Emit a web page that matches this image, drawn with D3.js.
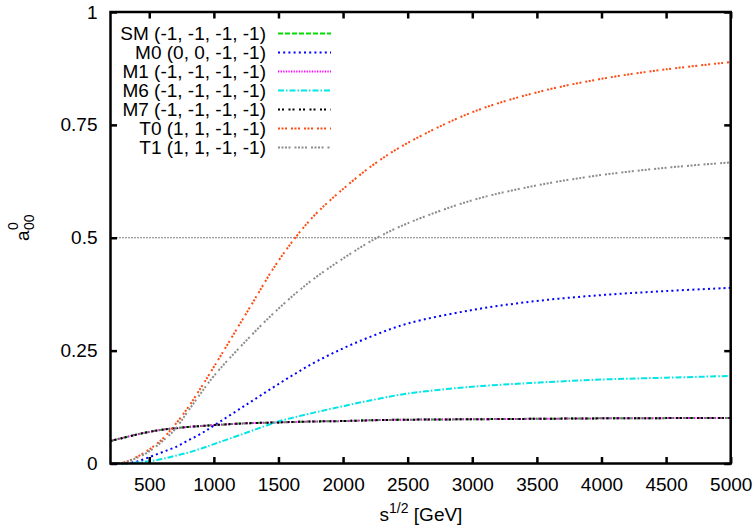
<!DOCTYPE html>
<html><head><meta charset="utf-8">
<script src="https://cdn.jsdelivr.net/npm/d3@7"></script>
<style>
html,body{margin:0;padding:0;background:#fff;}
svg{display:block;font-family:"Liberation Sans",Arial,Helvetica,sans-serif;}
</style></head>
<body>
<svg id="chart" width="756" height="531"></svg>
<script>
const energies = [200,300,400,500,600,700,800,900,1000,1250,1500,1750,2000,2250,2500,3000,3500,4000,4500,5000];
const smValues = [0.050,0.057,0.064,0.070,0.075,0.078,0.081,0.083,0.085,0.089,0.091,0.093,0.094,0.096,0.097,0.098,0.099,0.100,0.1005,0.101];
const m0Values = [0,0,0.004,0.014,0.025,0.036,0.051,0.066,0.084,0.130,0.176,0.219,0.255,0.285,0.310,0.340,0.360,0.373,0.382,0.389];
const m1Values = smValues.slice();
const m6Values = [0,0,0.002,0.005,0.010,0.017,0.024,0.033,0.043,0.068,0.093,0.111,0.127,0.142,0.155,0.170,0.179,0.186,0.190,0.194];
const m7Values = smValues.slice();
const t0Values = [0,0.002,0.014,0.031,0.054,0.086,0.124,0.168,0.214,0.332,0.449,0.541,0.608,0.665,0.710,0.778,0.822,0.852,0.873,0.889];
const t1Values = [0,0.002,0.012,0.027,0.049,0.076,0.116,0.156,0.194,0.272,0.343,0.404,0.454,0.498,0.532,0.583,0.616,0.639,0.655,0.667];
const seriesNames = ["SM (-1, -1, -1, -1)","M0 (0, 0, -1, -1)","M1 (-1, -1, -1, -1)","M6 (-1, -1, -1, -1)","M7 (-1, -1, -1, -1)","T0 (1, 1, -1, -1)","T1 (1, 1, -1, -1)"];
const xTicks = [500,1000,1500,2000,2500,3000,3500,4000,4500,5000];
const yTicks = [0,0.25,0.5,0.75,1];
const yTickLabels = ["0","0.25","0.5","0.75","1"];

const seriesValues = [smValues,m0Values,m1Values,m6Values,m7Values,t0Values,t1Values];
const colors = ["#00dd00","#0000ff","#ff00ff","#00e5e5","#000000","#ff4a10","#8c8c8c"];
const dashes = ["5,2","2,3.2","1.3,1.3","6,2,1.5,2","2,2,2,4.5","2,1.5,2,1.5,2,4","2,1.5,2,1.5,2,1.5,2,4"];

const svg = d3.select("#chart");
const L=110.5, R=730.7, T=12, B=463.5;
const x = d3.scaleLinear().domain([200,5000]).range([L,R]);
const y = d3.scaleLinear().domain([0,1]).range([B,T]);
const fs = 19;

svg.append("line").attr("x1",L).attr("x2",R).attr("y1",y(0.5)).attr("y2",y(0.5))
  .attr("stroke","#000").attr("stroke-width",1).attr("stroke-dasharray","1,2");

const line = d3.line().x((d,i)=>x(energies[i])).y(d=>y(d)).curve(d3.curveCatmullRom.alpha(0.5));
const plot = svg.append("g");
seriesValues.forEach((vals,k)=>{
  plot.append("path").datum(vals).attr("d",line)
    .attr("fill","none").attr("stroke",colors[k]).attr("stroke-width",2)
    .attr("stroke-dasharray",dashes[k]);
});

const tl = 6.5;
const ax = svg.append("g");
ax.append("g").attr("transform",`translate(0,${B})`)
  .call(d3.axisBottom(x).tickValues(xTicks).tickSize(-tl).tickPadding(14).tickFormat(d3.format("d")));
ax.append("g").attr("transform",`translate(0,${T})`)
  .call(d3.axisTop(x).tickValues(xTicks).tickSize(-tl).tickFormat(""));
ax.append("g").attr("transform",`translate(${L},0)`)
  .call(d3.axisLeft(y).tickValues(yTicks).tickSize(-tl).tickPadding(13).tickFormat((d,i)=>yTickLabels[i]));
ax.append("g").attr("transform",`translate(${R},0)`)
  .call(d3.axisRight(y).tickValues(yTicks).tickSize(-tl).tickFormat(""));
ax.selectAll(".domain").remove();
ax.selectAll(".tick line").attr("stroke","#000").attr("stroke-width",2.5);
ax.selectAll(".tick text").attr("font-size",fs).attr("fill","#000").attr("font-family",'"Liberation Sans",Arial,sans-serif');
svg.append("rect").attr("x",L).attr("y",T).attr("width",R-L).attr("height",B-T)
  .attr("fill","none").attr("stroke","#000").attr("stroke-width",2.5);

const lg = svg.append("g");
seriesNames.forEach((name,k)=>{
  const yy = 33.5 + k*19;
  lg.append("text").attr("x",266).attr("y",yy+6.5).attr("text-anchor","end")
    .attr("font-size",fs).attr("fill","#000").text(name);
  lg.append("line").attr("x1",278).attr("x2",331).attr("y1",yy).attr("y2",yy)
    .attr("stroke",colors[k]).attr("stroke-width",2).attr("stroke-dasharray",dashes[k]);
});

const xl = svg.append("text").attr("x",421).attr("y",521).attr("text-anchor","middle").attr("font-size",fs);
xl.append("tspan").text("s");
xl.append("tspan").attr("dy",-8).attr("font-size",14).text("1/2");
xl.append("tspan").attr("dy",8).text(" [GeV]");

const yl = svg.append("g").attr("transform","translate(29,241) rotate(-90)");
yl.append("text").attr("x",0).attr("y",0).attr("font-size",fs).text("a");
yl.append("text").attr("x",11).attr("y",-11).attr("font-size",14).text("0");
yl.append("text").attr("x",11).attr("y",5).attr("font-size",14).text("00");
</script>
</body></html>
